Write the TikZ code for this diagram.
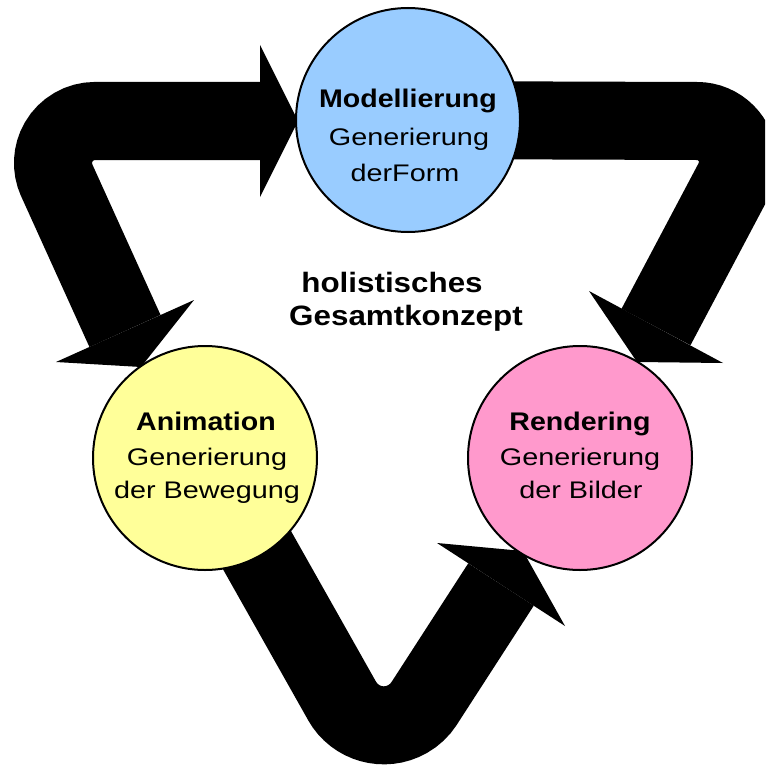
\documentclass[tikz,border=0pt]{standalone}
\usepackage{fontspec}
\setmainfont{Liberation Sans}
\newfontfamily\wreg[FakeStretch=1.2]{Liberation Sans}
\newfontfamily\wbold[FakeStretch=1.12]{Liberation Sans}
\definecolor{mblue}{HTML}{99CCFF}
\definecolor{myellow}{HTML}{FFFF99}
\definecolor{mpink}{HTML}{FF99CC}
\begin{document}
\begin{tikzpicture}[x=1pt,y=-1pt,
  band/.style={line width=78pt, draw=black},
  head/.style={fill=black},
  ball/.style={circle, draw=black, line width=2pt, minimum size=224pt, inner sep=0pt},
  ttl/.style={anchor=base, inner sep=0pt, font=\wbold\bfseries\fontsize{25.5}{30}\selectfont},
  sub/.style={anchor=base, inner sep=0pt, font=\wreg\fontsize{24}{28}\selectfont},
  ctr/.style={anchor=base, inner sep=0pt, font=\wbold\bfseries\fontsize{28}{32}\selectfont}]
\useasboundingbox (0,0) rectangle (765,765);
\clip (0,0) rectangle (765,765);
\fill[white] (0,0) rectangle (765,765);

% circle centres
\coordinate (mc) at (408,120);
\coordinate (ac) at (205,458);
\coordinate (rc) at (580,458);

% left double-headed arrow
\coordinate (L0) at (260,121);
\coordinate (LT) at (95,121);
\coordinate (L1) at (125,331);
\draw[band] (L0) -- (LT) arc[start angle=-90, end angle=-204.2, radius=42] -- (L1);
\coordinate (LtA) at (298,121);
\coordinate (LbA1) at (260,45);
\coordinate (LbA2) at (260,197);
\fill[head] (LbA1) -- (LtA) -- (LbA2) -- cycle;
\coordinate (LtB) at (141,367);
\coordinate (LbB1) at (194,300);
\coordinate (LbB2) at (56,362);
\fill[head] (LbB1) -- (LtB) -- (LbB2) -- cycle;

% top-right arrow
\coordinate (RT) at (696.95,121);
\coordinate (R1) at (656,327);
\draw[band] (mc) -- (RT) arc[start angle=-90, end angle=27.75, radius=41] -- (R1);
\coordinate (RtA) at (637,362);
\coordinate (RbA1) at (589,291);
\coordinate (RbA2) at (723,363);
\fill[head] (RbA1) -- (RtA) -- (RbA2) -- cycle;

% bottom arrow
\coordinate (BT) at (342,700.8);
\coordinate (B1) at (501,584.5);
\draw[band] (ac) -- (BT) arc[start angle=150.7, end angle=32.8, radius=48] -- (B1);
\coordinate (BtA) at (523,551);
\coordinate (BbA1) at (437,543);
\coordinate (BbA2) at (565,626);
\fill[head] (BbA1) -- (BtA) -- (BbA2) -- cycle;

% circles
\node[ball, fill=mblue] (mod) at (mc) {};
\node[ball, fill=myellow] (ani) at (ac) {};
\node[ball, fill=mpink] (ren) at (rc) {};

% texts
\node[ttl] (mod1) at (408,107) {Modellierung};
\node[sub] (mod2) at (409,146) {Generierung};
\node[sub] (mod3) at (405,181) {derForm};

\node[ttl] (ani1) at (206,430) {Animation};
\node[sub] (ani2) at (207,465) {Generierung};
\node[sub] (ani3) at (207,498) {der Bewegung};

\node[ttl] (ren1) at (580,430) {Rendering};
\node[sub] (ren2) at (580,465) {Generierung};
\node[sub] (ren3) at (581,498) {der Bilder};

\node[ctr] (c1) at (392,292) {holistisches};
\node[ctr] (c2) at (406,325) {Gesamtkonzept};
\end{tikzpicture}
\end{document}
